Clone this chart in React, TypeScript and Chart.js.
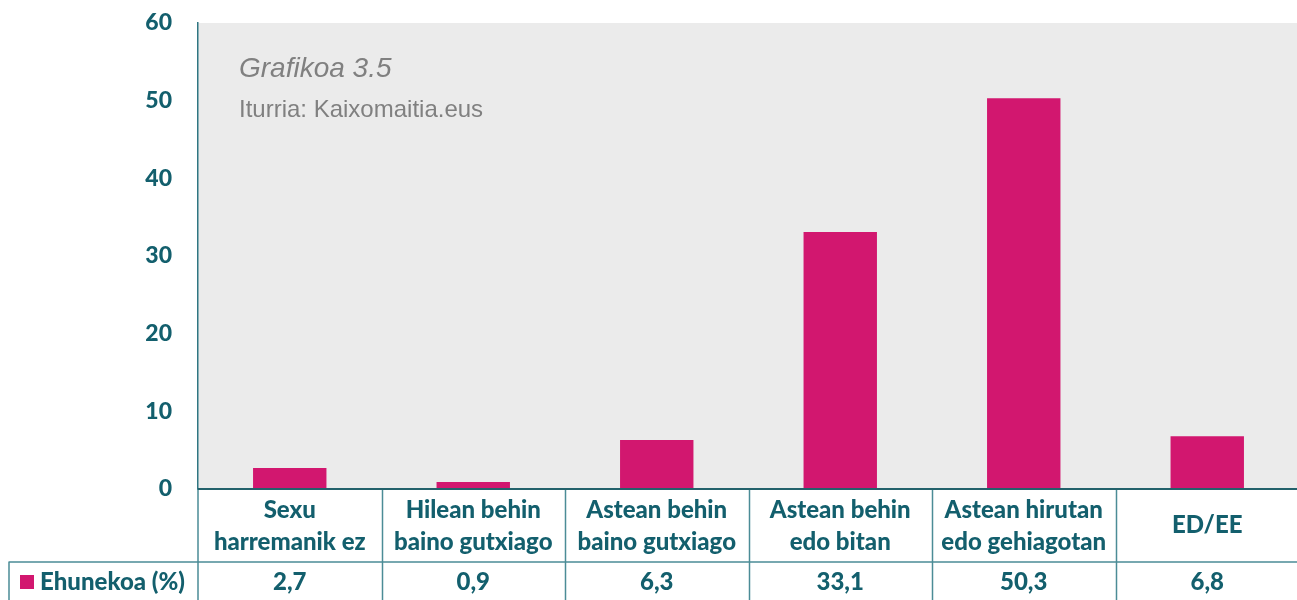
import React, { useEffect, useRef } from "react";
import { Chart, registerables } from "chart.js";

Chart.register(...registerables);

const categories: string[][] = [
  ["Sexu", "harremanik ez"],
  ["Hilean behin", "baino gutxiago"],
  ["Astean behin", "baino gutxiago"],
  ["Astean behin", "edo bitan"],
  ["Astean hirutan", "edo gehiagotan"],
  ["ED/EE"],
];
const values: number[] = [2.7, 0.9, 6.3, 33.1, 50.3, 6.8];
const valueLabels: string[] = ["2,7", "0,9", "6,3", "33,1", "50,3", "6,8"];
const seriesName = "Ehunekoa (%)";
const chartTitle = "Grafikoa 3.5";
const chartSource = "Iturria: Kaixomaitia.eus";
const yMin = 0;
const yMax = 60;
const yStep = 10;

const TEAL = "#135f6d";
const LINE = "#4b8c96";
const BAR = "#d2176f";
const FONT = "Lato, 'Noto Sans', sans-serif";

const tablePlugin = {
  id: "tablePlugin",
  beforeDraw(chart: any) {
    const { ctx, chartArea } = chart;
    ctx.save();
    ctx.fillStyle = "#ebebeb";
    ctx.fillRect(chartArea.left, chartArea.top, chartArea.right - chartArea.left, chartArea.bottom - chartArea.top);
    ctx.restore();
  },
  afterDraw(chart: any) {
    const { ctx, chartArea } = chart;
    const x = chart.scales.x;
    const n = categories.length;
    const left = chartArea.left;
    const right = chartArea.right;
    const bottom = chartArea.bottom;
    const colW = (right - left) / n;
    const rowY = 562;
    const tableBottom = 600;
    ctx.save();
    // titles
    ctx.fillStyle = "#808080";
    ctx.textAlign = "left";
    ctx.textBaseline = "alphabetic";
    ctx.font = "italic 28px 'Liberation Sans', Arial, sans-serif";
    ctx.fillText(chartTitle, 239, 77);
    ctx.font = "24px 'Liberation Sans', Arial, sans-serif";
    ctx.fillText(chartSource, 239, 117);

    // table lines
    ctx.strokeStyle = LINE;
    ctx.lineWidth = 1.5;
    ctx.beginPath();
    ctx.moveTo(8.5, rowY);
    ctx.lineTo(right, rowY);
    ctx.moveTo(9, rowY);
    ctx.lineTo(9, tableBottom);
    ctx.moveTo(left, bottom);
    ctx.lineTo(left, tableBottom);
    for (let i = 1; i < n; i++) {
      const xx = Math.round(left + i * colW) + 0.5;
      ctx.moveTo(xx, bottom);
      ctx.lineTo(xx, tableBottom);
    }
    ctx.stroke();
    // zero line
    ctx.strokeStyle = "#23616b";
    ctx.lineWidth = 2;
    ctx.beginPath();
    ctx.moveTo(left, bottom);
    ctx.lineTo(right, bottom);
    ctx.stroke();

    // category labels
    ctx.fillStyle = TEAL;
    ctx.textAlign = "center";
    ctx.textBaseline = "middle";
    ctx.font = "900 24px " + FONT;
    categories.forEach((lines, i) => {
      const cx = x.getPixelForValue(i);
      if (lines.length === 1) {
        ctx.fillText(lines[0], cx, 525);
      } else {
        ctx.fillText(lines[0], cx, 510);
        ctx.fillText(lines[1], cx, 542);
      }
      ctx.fillText(valueLabels[i], cx, 582);
    });
    // legend
    ctx.fillStyle = BAR;
    ctx.fillRect(20, 575, 14, 14);
    ctx.fillStyle = TEAL;
    ctx.textAlign = "left";
    ctx.fillText(seriesName, 40, 582);
    ctx.restore();
  },
};

export default function App() {
  const ref = useRef<HTMLCanvasElement>(null);
  useEffect(() => {
    if (!ref.current) return;
    const chart = new Chart(ref.current, {
      type: "bar",
      data: {
        labels: categories.map((c) => c.join(" ")),
        datasets: [
          {
            label: seriesName,
            data: values,
            backgroundColor: BAR,
            barPercentage: 0.4,
            categoryPercentage: 1,
          },
        ],
      },
      options: {
        animation: false,
        responsive: false,
        layout: { padding: { top: 23, bottom: 111, right: 0, left: 0 } },
        plugins: { legend: { display: false }, tooltip: { enabled: false } },
        scales: {
          x: { display: false },
          y: {
            min: yMin,
            max: yMax,
            ticks: {
              stepSize: yStep,
              color: TEAL,
              font: { family: FONT, weight: "900", size: 23 },
              padding: 26,
            },
            grid: { display: false, drawTicks: false },
            border: { display: true, color: "#2f7682", width: 1.5 },
            afterFit: (s: any) => {
              s.width = 198;
              s.paddingTop = 0;
              s.paddingBottom = 0;
            },
          },
        },
      },
      plugins: [tablePlugin],
    });
    return () => chart.destroy();
  }, []);
  return (
    <div style={{ position: "absolute", left: 0, top: 0, width: 1297, height: 600, overflow: "hidden", background: "#fff" }}>
      <canvas ref={ref} width={1299} height={600} style={{ width: 1299, height: 600, display: "block" }} />
    </div>
  );
}
